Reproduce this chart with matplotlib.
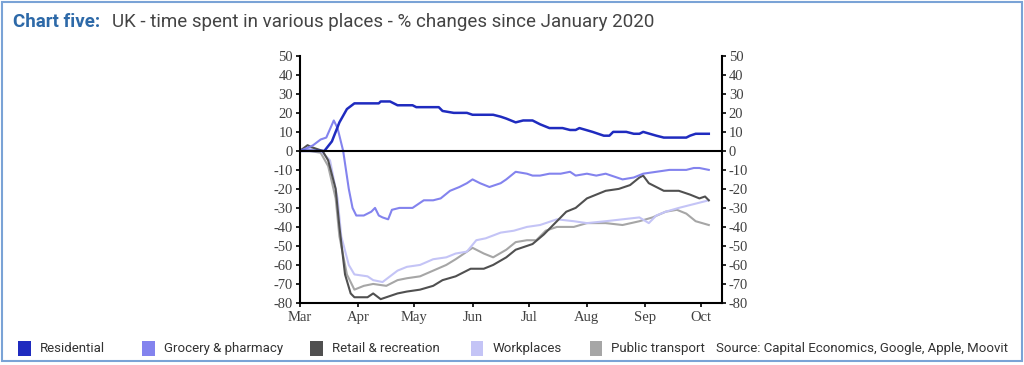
import numpy as np
import matplotlib.pyplot as plt
import matplotlib.dates as mdates
from matplotlib.patches import Rectangle

plt.rcParams['axes.unicode_minus'] = False

start = np.datetime64('2020-03-01')

# days since 1 March 2020, values in % change
res_days = [0, 5, 10, 13, 17, 21, 25, 29, 35, 42, 43, 48, 52, 60, 62, 74, 76, 82, 89, 92, 103, 107, 110, 115,
            119, 124, 128, 133, 140, 144, 147, 149, 156, 162, 165, 167, 174, 178, 181, 183, 190, 194, 206, 208, 211, 218]
res_vals = [0, 0, 0, 0, 5, 15, 22, 25, 25, 25, 26, 26, 24, 24, 23, 23, 21, 20, 20, 19, 19, 18, 17, 15,
            16, 16, 14, 12, 12, 11, 11, 12, 10, 8, 8, 10, 10, 9, 9, 10, 8, 7, 7, 8, 9, 9]

groc_days = [0, 5, 7, 11, 14, 18, 20, 23, 26, 28, 30, 34, 38, 40, 42, 44, 47, 49, 53, 60, 66, 71, 75, 80, 85,
             89, 92, 96, 101, 107, 110, 115, 121, 124, 128, 133, 139, 144, 147, 153, 158, 163, 169, 172, 178,
             183, 190, 197, 206, 210, 213, 218]
groc_vals = [0, 2, 3, 6, 7, 16, 12, 0, -20, -30, -34, -34, -32, -30, -34, -35, -36, -31, -30, -30, -26, -26,
             -25, -21, -19, -17, -15, -17, -19, -17, -15, -11, -12, -13, -13, -12, -12, -11, -13, -12, -13, -12,
             -14, -15, -14, -12, -11, -10, -10, -9, -9, -10]

ret_days = [0, 4, 6, 12, 15, 19, 21, 24, 27, 29, 36, 39, 43, 46, 52, 57, 64, 71, 76, 83, 91, 98, 103, 110, 115,
            121, 124, 130, 135, 142, 147, 153, 158, 163, 170, 176, 181, 183, 186, 190, 194, 202, 208, 213, 216, 218]
ret_vals = [0, 3, 2, 0, -5, -20, -40, -65, -75, -77, -77, -75, -78, -77, -75, -74, -73, -71, -68, -66, -62, -62,
            -60, -56, -52, -50, -49, -44, -39, -32, -30, -25, -23, -21, -20, -18, -14, -13, -17, -19, -21, -21,
            -23, -25, -24, -26]

work_days = [0, 5, 11, 16, 20, 22, 26, 29, 36, 39, 44, 48, 52, 57, 64, 71, 78, 83, 89, 94, 99, 107, 114, 121,
             128, 137, 146, 153, 163, 172, 181, 186, 190, 195, 202, 210, 218]
work_vals = [1, 1, 0, -5, -25, -45, -60, -65, -66, -68, -69, -66, -63, -61, -60, -57, -56, -54, -53, -47, -46,
             -43, -42, -40, -39, -36, -37, -38, -37, -36, -35, -38, -34, -32, -30, -28, -26]

pt_days = [0, 5, 11, 15, 19, 21, 25, 29, 34, 39, 46, 52, 57, 64, 71, 78, 83, 92, 98, 103, 110, 115, 121, 126,
           131, 137, 146, 153, 163, 172, 181, 188, 195, 201, 206, 211, 218]
pt_vals = [1, 0, -1, -8, -25, -45, -65, -73, -71, -70, -71, -68, -67, -66, -63, -60, -57, -51, -54, -56, -52,
           -48, -47, -47, -42, -40, -40, -38, -38, -39, -37, -35, -32, -31, -33, -37, -39]

names = ['Residential', 'Grocery & pharmacy', 'Retail & recreation', 'Workplaces', 'Public transport']
colors = ['#1f2bbf', '#8383ee', '#505050', '#c4c4f6', '#a6a6a6']
series = [(res_days, res_vals), (groc_days, groc_vals), (ret_days, ret_vals),
          (work_days, work_vals), (pt_days, pt_vals)]

fig = plt.figure(figsize=(10.24, 3.65), dpi=100)
fig.patches.append(Rectangle((0.002, 0.012), 0.996, 0.983, transform=fig.transFigure,
                             fill=False, edgecolor='#7aa3d6', linewidth=1.5))

ax = fig.add_axes([0.293, 0.170, 0.412, 0.677])

# drawing order: lighter ones behind
for i in [4, 3, 2, 1, 0]:
    d, v = series[i]
    dates = start + np.array(d).astype('timedelta64[D]')
    ax.plot(dates, v, color=colors[i], lw=1.8 if i == 0 else 1.5)

ax.axhline(0, color='black', lw=1.5)

ax.set_ylim(-80, 50)
ax.set_xlim(start, np.datetime64('2020-10-12'))
ax.set_yticks(np.arange(-80, 51, 10))
ax.xaxis.set_major_locator(mdates.MonthLocator())
ax.xaxis.set_major_formatter(mdates.DateFormatter('%b'))

ax.spines['top'].set_visible(False)
for s in ['left', 'right', 'bottom']:
    ax.spines[s].set_linewidth(1.5)
ax.tick_params(axis='y', left=True, right=True, labelleft=True, labelright=True,
               direction='out', length=3, width=1.2, labelsize=10.5, labelcolor='#404040', pad=2)
ax.tick_params(axis='x', direction='out', length=3, width=1.2, labelsize=10.5, labelcolor='#404040', pad=3)
for lab in ax.get_xticklabels() + ax.yaxis.get_ticklabels(which='both'):
    lab.set_family('Liberation Serif')
for t in ax.yaxis.get_major_ticks():
    t.label2.set_family('Liberation Serif')

# title
fig.text(0.013, 0.94, 'Chart five:', fontsize=13.5, fontweight='bold', color='#2d69a8',
         family='Roboto', va='center')
fig.text(0.109, 0.94, 'UK - time spent in various places - % changes since January 2020', fontsize=13.5,
         color='#444444', family='Roboto', va='center')

# legend row
leg_x = [0.018, 0.139, 0.303, 0.460, 0.576]
for x, name, c in zip(leg_x, names, colors):
    fig.patches.append(Rectangle((x, 0.025), 0.012, 0.04, transform=fig.transFigure,
                                 facecolor=c, edgecolor='none'))
    fig.text(x + 0.021, 0.045, name, fontsize=9.5, color='#333333', family='Roboto', va='center')
fig.text(0.984, 0.045, 'Source: Capital Economics, Google, Apple, Moovit', fontsize=9.5, color='#333333',
         family='Roboto', va='center', ha='right')

fig.savefig('out.png', dpi=100)
